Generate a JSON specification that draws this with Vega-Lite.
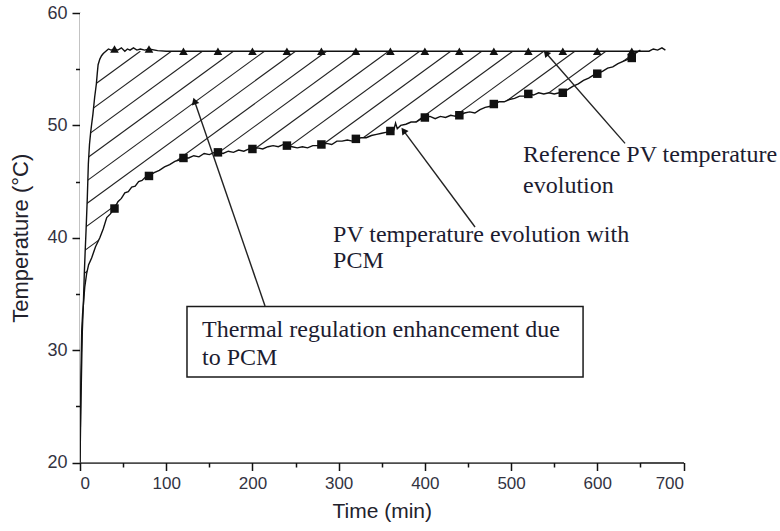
{
  "$schema": "https://vega.github.io/schema/vega-lite/v6.json",
  "width": 603.5,
  "height": 449.5,
  "autosize": {"type": "none"},
  "padding": {"left": 80, "top": 13, "right": 96.5, "bottom": 68.5},
  "background": "white",
  "config": {
    "view": {"stroke": null},
    "axis": {
      "grid": false,
      "zindex": 1,
      "domainColor": "#111111",
      "domainWidth": 1.5,
      "tickColor": "#111111",
      "tickWidth": 1.5,
      "labelFont": "Liberation Sans",
      "labelFontSize": 17,
      "labelColor": "#33333f",
      "titleFont": "Liberation Sans",
      "titleFontSize": 21,
      "titleFontWeight": "normal",
      "titleColor": "#22222c"
    }
  },
  "resolve": {"axis": {"x": "independent", "y": "independent"}},
  "datasets": {
    "curves": [
      {"series": "Reference", "t": 0, "T": 20},
      {"series": "Reference", "t": 0.5, "T": 22.5},
      {"series": "Reference", "t": 1.2, "T": 25.8},
      {"series": "Reference", "t": 2, "T": 29},
      {"series": "Reference", "t": 2.7, "T": 31.7},
      {"series": "Reference", "t": 3.9, "T": 34.1},
      {"series": "Reference", "t": 5, "T": 36.8},
      {"series": "Reference", "t": 6, "T": 38.8},
      {"series": "Reference", "t": 7, "T": 40.6},
      {"series": "Reference", "t": 8.5, "T": 43.6},
      {"series": "Reference", "t": 9.7, "T": 46.6},
      {"series": "Reference", "t": 11, "T": 48.3},
      {"series": "Reference", "t": 12.4, "T": 49.4},
      {"series": "Reference", "t": 13.5, "T": 50.1},
      {"series": "Reference", "t": 15, "T": 51.0},
      {"series": "Reference", "t": 17, "T": 52.5},
      {"series": "Reference", "t": 19, "T": 53.7},
      {"series": "Reference", "t": 20, "T": 54.6},
      {"series": "Reference", "t": 21, "T": 55.4},
      {"series": "Reference", "t": 23, "T": 55.9},
      {"series": "Reference", "t": 25, "T": 56.2},
      {"series": "Reference", "t": 27, "T": 56.4},
      {"series": "Reference", "t": 30, "T": 56.6},
      {"series": "Reference", "t": 33, "T": 56.8},
      {"series": "Reference", "t": 36, "T": 56.7},
      {"series": "Reference", "t": 40, "T": 56.8},
      {"series": "Reference", "t": 44, "T": 56.7},
      {"series": "Reference", "t": 48, "T": 56.9},
      {"series": "Reference", "t": 52, "T": 56.6},
      {"series": "Reference", "t": 55, "T": 56.8},
      {"series": "Reference", "t": 58, "T": 56.7},
      {"series": "Reference", "t": 62, "T": 56.9},
      {"series": "Reference", "t": 66, "T": 56.7},
      {"series": "Reference", "t": 70, "T": 56.8},
      {"series": "Reference", "t": 75, "T": 56.7},
      {"series": "Reference", "t": 80, "T": 56.8},
      {"series": "Reference", "t": 90, "T": 56.65},
      {"series": "Reference", "t": 100, "T": 56.6},
      {"series": "Reference", "t": 120, "T": 56.6},
      {"series": "Reference", "t": 160, "T": 56.6},
      {"series": "Reference", "t": 200, "T": 56.6},
      {"series": "Reference", "t": 240, "T": 56.6},
      {"series": "Reference", "t": 280, "T": 56.6},
      {"series": "Reference", "t": 320, "T": 56.6},
      {"series": "Reference", "t": 360, "T": 56.6},
      {"series": "Reference", "t": 400, "T": 56.6},
      {"series": "Reference", "t": 440, "T": 56.6},
      {"series": "Reference", "t": 480, "T": 56.6},
      {"series": "Reference", "t": 520, "T": 56.6},
      {"series": "Reference", "t": 560, "T": 56.6},
      {"series": "Reference", "t": 600, "T": 56.6},
      {"series": "Reference", "t": 640, "T": 56.6},
      {"series": "Reference", "t": 660, "T": 56.6},
      {"series": "Reference", "t": 665, "T": 56.8},
      {"series": "Reference", "t": 670, "T": 56.7},
      {"series": "Reference", "t": 675, "T": 56.9},
      {"series": "Reference", "t": 679, "T": 56.7},
      {"series": "PCM", "t": 0, "T": 20},
      {"series": "PCM", "t": 0.5, "T": 24},
      {"series": "PCM", "t": 1, "T": 27.5},
      {"series": "PCM", "t": 2, "T": 31.7},
      {"series": "PCM", "t": 3, "T": 33.2},
      {"series": "PCM", "t": 4, "T": 34.1},
      {"series": "PCM", "t": 5.5, "T": 35.6},
      {"series": "PCM", "t": 7.7, "T": 36.8},
      {"series": "PCM", "t": 10, "T": 37.6},
      {"series": "PCM", "t": 13.5, "T": 38.2},
      {"series": "PCM", "t": 18, "T": 39.2},
      {"series": "PCM", "t": 23, "T": 40.0},
      {"series": "PCM", "t": 27, "T": 40.8},
      {"series": "PCM", "t": 31, "T": 41.8},
      {"series": "PCM", "t": 35, "T": 42.1},
      {"series": "PCM", "t": 40, "T": 42.6},
      {"series": "PCM", "t": 44, "T": 43.2},
      {"series": "PCM", "t": 48, "T": 43.5},
      {"series": "PCM", "t": 52, "T": 44.0},
      {"series": "PCM", "t": 56, "T": 44.1},
      {"series": "PCM", "t": 60, "T": 44.5},
      {"series": "PCM", "t": 64, "T": 44.6},
      {"series": "PCM", "t": 68, "T": 45.0},
      {"series": "PCM", "t": 72, "T": 45.1},
      {"series": "PCM", "t": 76, "T": 45.4},
      {"series": "PCM", "t": 80, "T": 45.5},
      {"series": "PCM", "t": 86, "T": 45.8},
      {"series": "PCM", "t": 92, "T": 46.0},
      {"series": "PCM", "t": 98, "T": 46.3},
      {"series": "PCM", "t": 104, "T": 46.5},
      {"series": "PCM", "t": 110, "T": 46.8},
      {"series": "PCM", "t": 115, "T": 46.9},
      {"series": "PCM", "t": 120, "T": 47.1},
      {"series": "PCM", "t": 126, "T": 47.1},
      {"series": "PCM", "t": 132, "T": 47.3},
      {"series": "PCM", "t": 138, "T": 47.2},
      {"series": "PCM", "t": 144, "T": 47.5},
      {"series": "PCM", "t": 150, "T": 47.4},
      {"series": "PCM", "t": 156, "T": 47.6},
      {"series": "PCM", "t": 160, "T": 47.6},
      {"series": "PCM", "t": 166, "T": 47.5},
      {"series": "PCM", "t": 172, "T": 47.7},
      {"series": "PCM", "t": 178, "T": 47.6},
      {"series": "PCM", "t": 184, "T": 47.8},
      {"series": "PCM", "t": 190, "T": 47.7},
      {"series": "PCM", "t": 196, "T": 47.9},
      {"series": "PCM", "t": 200, "T": 47.9},
      {"series": "PCM", "t": 206, "T": 48.0},
      {"series": "PCM", "t": 212, "T": 47.9},
      {"series": "PCM", "t": 218, "T": 48.1},
      {"series": "PCM", "t": 224, "T": 48.2},
      {"series": "PCM", "t": 230, "T": 48.1},
      {"series": "PCM", "t": 236, "T": 48.3},
      {"series": "PCM", "t": 240, "T": 48.2},
      {"series": "PCM", "t": 246, "T": 48.1},
      {"series": "PCM", "t": 252, "T": 48.0},
      {"series": "PCM", "t": 258, "T": 48.1},
      {"series": "PCM", "t": 264, "T": 48.0},
      {"series": "PCM", "t": 270, "T": 48.2},
      {"series": "PCM", "t": 276, "T": 48.2},
      {"series": "PCM", "t": 280, "T": 48.3},
      {"series": "PCM", "t": 286, "T": 48.4},
      {"series": "PCM", "t": 292, "T": 48.3},
      {"series": "PCM", "t": 298, "T": 48.6},
      {"series": "PCM", "t": 304, "T": 48.6},
      {"series": "PCM", "t": 310, "T": 48.7},
      {"series": "PCM", "t": 316, "T": 48.6},
      {"series": "PCM", "t": 320, "T": 48.8},
      {"series": "PCM", "t": 326, "T": 48.9},
      {"series": "PCM", "t": 332, "T": 48.9},
      {"series": "PCM", "t": 338, "T": 49.1},
      {"series": "PCM", "t": 344, "T": 49.2},
      {"series": "PCM", "t": 350, "T": 49.3},
      {"series": "PCM", "t": 356, "T": 49.4},
      {"series": "PCM", "t": 360, "T": 49.5},
      {"series": "PCM", "t": 364, "T": 49.6},
      {"series": "PCM", "t": 366, "T": 50.2},
      {"series": "PCM", "t": 368, "T": 49.7},
      {"series": "PCM", "t": 372, "T": 50.0},
      {"series": "PCM", "t": 378, "T": 50.1},
      {"series": "PCM", "t": 384, "T": 50.3},
      {"series": "PCM", "t": 390, "T": 50.3},
      {"series": "PCM", "t": 396, "T": 50.6},
      {"series": "PCM", "t": 400, "T": 50.7},
      {"series": "PCM", "t": 406, "T": 50.8},
      {"series": "PCM", "t": 412, "T": 50.6},
      {"series": "PCM", "t": 418, "T": 50.8},
      {"series": "PCM", "t": 424, "T": 50.7},
      {"series": "PCM", "t": 430, "T": 50.9},
      {"series": "PCM", "t": 436, "T": 50.8},
      {"series": "PCM", "t": 440, "T": 50.9},
      {"series": "PCM", "t": 446, "T": 51.1},
      {"series": "PCM", "t": 452, "T": 51.2},
      {"series": "PCM", "t": 458, "T": 51.1},
      {"series": "PCM", "t": 464, "T": 51.4},
      {"series": "PCM", "t": 470, "T": 51.6},
      {"series": "PCM", "t": 476, "T": 51.7},
      {"series": "PCM", "t": 480, "T": 51.9},
      {"series": "PCM", "t": 486, "T": 52.1},
      {"series": "PCM", "t": 492, "T": 52.1},
      {"series": "PCM", "t": 498, "T": 52.3},
      {"series": "PCM", "t": 504, "T": 52.4},
      {"series": "PCM", "t": 510, "T": 52.6},
      {"series": "PCM", "t": 516, "T": 52.6},
      {"series": "PCM", "t": 520, "T": 52.8},
      {"series": "PCM", "t": 526, "T": 52.7},
      {"series": "PCM", "t": 532, "T": 52.9},
      {"series": "PCM", "t": 538, "T": 52.8},
      {"series": "PCM", "t": 544, "T": 52.9},
      {"series": "PCM", "t": 550, "T": 52.8},
      {"series": "PCM", "t": 556, "T": 52.9},
      {"series": "PCM", "t": 560, "T": 52.9},
      {"series": "PCM", "t": 566, "T": 53.2},
      {"series": "PCM", "t": 572, "T": 53.5},
      {"series": "PCM", "t": 578, "T": 53.7},
      {"series": "PCM", "t": 584, "T": 54.0},
      {"series": "PCM", "t": 590, "T": 54.2},
      {"series": "PCM", "t": 596, "T": 54.5},
      {"series": "PCM", "t": 600, "T": 54.6},
      {"series": "PCM", "t": 606, "T": 54.8},
      {"series": "PCM", "t": 612, "T": 55.1},
      {"series": "PCM", "t": 618, "T": 55.2},
      {"series": "PCM", "t": 624, "T": 55.5},
      {"series": "PCM", "t": 630, "T": 55.7},
      {"series": "PCM", "t": 636, "T": 55.9},
      {"series": "PCM", "t": 640, "T": 56.0},
      {"series": "PCM", "t": 644, "T": 56.4},
      {"series": "PCM", "t": 648, "T": 56.6},
      {"series": "PCM", "t": 650, "T": 56.7}
    ],
    "hatch": [
      {"t0": -583.6, "t1": 70},
      {"t0": -547.6, "t1": 106},
      {"t0": -511.6, "t1": 142},
      {"t0": -475.6, "t1": 178},
      {"t0": -439.6, "t1": 214},
      {"t0": -403.6, "t1": 250},
      {"t0": -367.6, "t1": 286},
      {"t0": -331.6, "t1": 322},
      {"t0": -295.6, "t1": 358},
      {"t0": -259.6, "t1": 394},
      {"t0": -223.6, "t1": 430},
      {"t0": -187.6, "t1": 466},
      {"t0": -151.6, "t1": 502},
      {"t0": -115.6, "t1": 538},
      {"t0": -79.6, "t1": 574},
      {"t0": -43.6, "t1": 610},
      {"t0": -7.6, "t1": 646}
    ],
    "arrows": [
      {"id": "ref", "t": 632.2, "T": 48.4, "t2": 540.5, "T2": 56.44},
      {"id": "pcm", "t": 458.2, "T": 40.96, "t2": 375.2, "T2": 49.54},
      {"id": "gain", "t": 214.6, "T": 33.93, "t2": 132.8, "T2": 52.17}
    ],
    "box": [
      {"t": 124.1, "T": 33.88, "t2": 583.5, "T2": 27.61}
    ],
    "notes": [
      {"text": "Reference PV temperature", "t": 513.9, "T": 46.77},
      {"text": "evolution", "t": 513.9, "T": 43.98},
      {"text": "PV temperature evolution with", "t": 293.5, "T": 39.65},
      {"text": "PCM", "t": 293.5, "T": 37.28},
      {"text": "Thermal regulation enhancement due", "t": 141.5, "T": 31.19},
      {"text": "to PCM", "t": 141.5, "T": 28.68}
    ]
  },
  "layer": [
    {
      "data": {"name": "hatch"},
      "mark": {"type": "rule", "color": "#222222", "strokeWidth": 1.1, "clip": true},
      "encoding": {
        "x": {
          "field": "t0",
          "type": "quantitative",
          "scale": {"domain": [0, 700], "nice": false, "zero": false},
          "axis": {
            "orient": "bottom",
            "title": "Time (min)",
            "values": [0, 100, 200, 300, 400, 500, 600, 700],
            "tickSize": 8,
            "labelPadding": 5,
            "titlePadding": 9
          }
        },
        "x2": {"field": "t1"},
        "y": {
          "datum": 20,
          "type": "quantitative",
          "scale": {"domain": [20, 60], "nice": false, "zero": false},
          "axis": {
            "orient": "left",
            "title": "Temperature (°C)",
            "values": [20, 30, 40, 50, 60],
            "tickSize": 8,
            "labelPadding": 5,
            "labelFontSize": 18,
            "titleFontSize": 22,
            "titlePadding": 14
          }
        },
        "y2": {"datum": 56.6}
      }
    },
    {
      "data": {"name": "curves"},
      "transform": [{"filter": "datum.series === 'Reference'"}],
      "mark": {"type": "area", "color": "white", "opacity": 1, "clip": true},
      "encoding": {
        "x": {
          "field": "t",
          "type": "quantitative",
          "axis": {"orient": "bottom", "values": [50, 150, 250, 350, 450, 550, 650], "tickSize": 4.5, "labels": false, "domain": false, "title": null}
        },
        "y": {
          "field": "T",
          "type": "quantitative",
          "axis": {"orient": "left", "values": [25, 35, 45, 55], "tickSize": 4.5, "labels": false, "domain": false, "title": null}
        },
        "y2": {"datum": 60}
      }
    },
    {
      "data": {"name": "curves"},
      "transform": [{"filter": "datum.series === 'PCM'"}],
      "mark": {"type": "area", "color": "white", "opacity": 1, "clip": true},
      "encoding": {
        "x": {"field": "t", "type": "quantitative", "axis": null},
        "y": {"field": "T", "type": "quantitative", "axis": null},
        "y2": {"datum": 20}
      }
    },
    {
      "data": {"name": "curves"},
      "mark": {"type": "line", "color": "#111111", "strokeWidth": 1.4, "clip": true},
      "encoding": {
        "x": {"field": "t", "type": "quantitative", "axis": null},
        "y": {"field": "T", "type": "quantitative", "axis": null},
        "detail": {"field": "series"}
      }
    },
    {
      "data": {"name": "curves"},
      "transform": [{"filter": "datum.series === 'Reference' && datum.t > 0 && datum.t % 40 === 0"}],
      "mark": {"type": "point", "shape": "triangle-up", "filled": true, "color": "#111111", "size": 75, "opacity": 1},
      "encoding": {
        "x": {"field": "t", "type": "quantitative", "axis": null},
        "y": {"field": "T", "type": "quantitative", "axis": null}
      }
    },
    {
      "data": {"name": "curves"},
      "transform": [{"filter": "datum.series === 'PCM' && datum.t > 0 && datum.t % 40 === 0"}],
      "mark": {"type": "point", "shape": "square", "filled": true, "color": "#111111", "size": 72, "opacity": 1},
      "encoding": {
        "x": {"field": "t", "type": "quantitative", "axis": null},
        "y": {"field": "T", "type": "quantitative", "axis": null}
      }
    },
    {
      "data": {"name": "box"},
      "mark": {"type": "rect", "fill": "white", "stroke": "#1a1a1a", "strokeWidth": 1.5},
      "encoding": {
        "x": {"field": "t", "type": "quantitative", "axis": null},
        "x2": {"field": "t2"},
        "y": {"field": "T", "type": "quantitative", "axis": null},
        "y2": {"field": "T2"}
      }
    },
    {
      "data": {"name": "notes"},
      "mark": {"type": "text", "font": "Liberation Serif", "fontSize": 24, "color": "#1c1c30", "align": "left", "baseline": "alphabetic"},
      "encoding": {
        "x": {"field": "t", "type": "quantitative", "axis": null},
        "y": {"field": "T", "type": "quantitative", "axis": null},
        "text": {"field": "text"}
      }
    },
    {
      "data": {"name": "arrows"},
      "mark": {"type": "rule", "color": "#222222", "strokeWidth": 1.4},
      "encoding": {
        "x": {"field": "t", "type": "quantitative", "axis": null},
        "y": {"field": "T", "type": "quantitative", "axis": null},
        "x2": {"field": "t2"},
        "y2": {"field": "T2"}
      }
    },
    {
      "data": {"name": "arrows"},
      "transform": [{"filter": "datum.id === 'ref'"}],
      "mark": {"type": "point", "shape": "triangle-up", "filled": true, "color": "#111111", "size": 60, "opacity": 1, "angle": -41},
      "encoding": {
        "x": {"field": "t2", "type": "quantitative", "axis": null},
        "y": {"field": "T2", "type": "quantitative", "axis": null}
      }
    },
    {
      "data": {"name": "arrows"},
      "transform": [{"filter": "datum.id === 'pcm'"}],
      "mark": {"type": "point", "shape": "triangle-up", "filled": true, "color": "#111111", "size": 60, "opacity": 1, "angle": -36.5},
      "encoding": {
        "x": {"field": "t2", "type": "quantitative", "axis": null},
        "y": {"field": "T2", "type": "quantitative", "axis": null}
      }
    },
    {
      "data": {"name": "arrows"},
      "transform": [{"filter": "datum.id === 'gain'"}],
      "mark": {"type": "point", "shape": "triangle-up", "filled": true, "color": "#111111", "size": 60, "opacity": 1, "angle": -19},
      "encoding": {
        "x": {"field": "t2", "type": "quantitative", "axis": null},
        "y": {"field": "T2", "type": "quantitative", "axis": null}
      }
    }
  ]
}
